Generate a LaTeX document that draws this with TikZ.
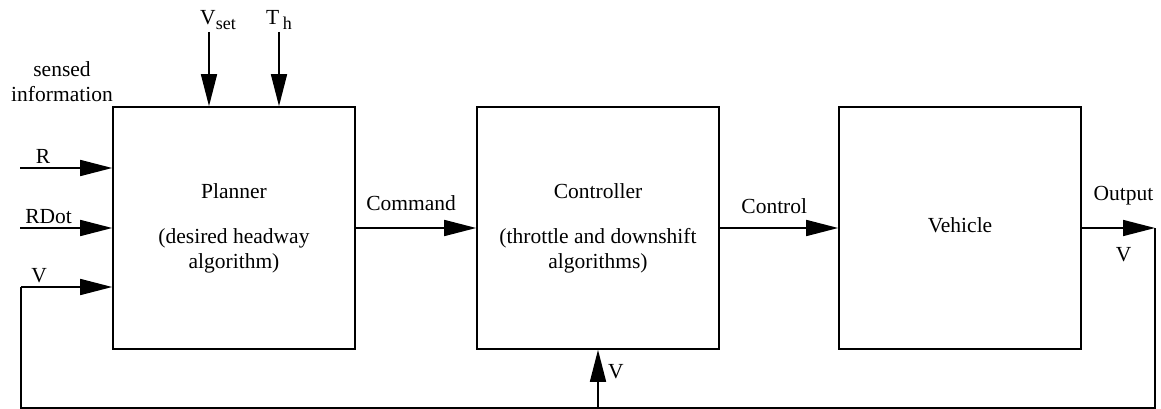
\documentclass[tikz,border=0pt]{standalone}
\usepackage{fontspec}
\setmainfont{Liberation Serif}
\usetikzlibrary{arrows.meta}
\tikzset{
  block/.style={draw, line width=1.6pt, minimum width=242pt, minimum height=242pt, align=center},
  wire/.style={line width=1.6pt},
  flow/.style={wire, -{Triangle[length=32pt,width=16pt]}}
}
\newcommand{\lowsub}[1]{\raisebox{-5pt}{\fontsize{18}{20}\selectfont #1}}

\begin{document}
\begin{tikzpicture}[x=1pt, y=-1pt, font=\fontsize{21.5}{25}\selectfont]
	\useasboundingbox (0,0) rectangle (1161,409);
	
	% blocks
	\node[block] (planner) at (234,228) {Planner\\[20pt](desired headway\\algorithm)};
	\node[block] (controller) at (598,228) {Controller\\[20pt](throttle and downshift\\algorithms)};
	\node[block] (vehicle) at (960,228) {\raisebox{6pt}{Vehicle}};
	
	% free ends
	\coordinate (vset) at (209,32);
	\coordinate (th) at (279,32);
	\coordinate (rin) at (20,168);
	\coordinate (rdin) at (20,228);
	\coordinate (vin) at (21,287);
	\coordinate (out) at (1155,228);
	\coordinate (fbl) at (21,408);
	
	% inputs of the planner
	\node[align=center] (sensed) at (62,82) {sensed\\information};
	\draw[flow] (vset) node[above, xshift=9pt, inner sep=2pt] (lvset) {V\lowsub{set}} -- (vset |- planner.north);
	\draw[flow] (th) node[above, inner sep=2pt] (lth) {T\,\lowsub{h}} -- (th |- planner.north);
	\draw[flow] (rin) -- (rin -| planner.west) node[pos=0.25, above] (lr) {R};
	\draw[flow] (rdin) -- (rdin -| planner.west) node[pos=0.31, above] (lrd) {RDot};
	
	% forward path
	\draw[flow] (planner.east) -- (controller.west) node[pos=0.46, above=13pt] (lcmd) {Command};
	\draw[flow] (controller.east) -- (vehicle.west) node[pos=0.46, above=10pt] (lctl) {Control};
	\draw[flow] (vehicle.east) -- (out) node[pos=0.57, above=19pt] (lout) {Output}
		node[pos=0.57, below=15pt] (lv) {V};
	
	% feedback
	\draw[wire] (out) |- (fbl) -- (vin);
	\draw[flow] (vin) -- (vin -| planner.west) node[pos=0.2, above] (lvin) {V};
	\draw[flow] (controller.south |- fbl) -- (controller.south) node[pos=0.62, right=6pt] (lvc) {V};
\end{tikzpicture}
\end{document}
